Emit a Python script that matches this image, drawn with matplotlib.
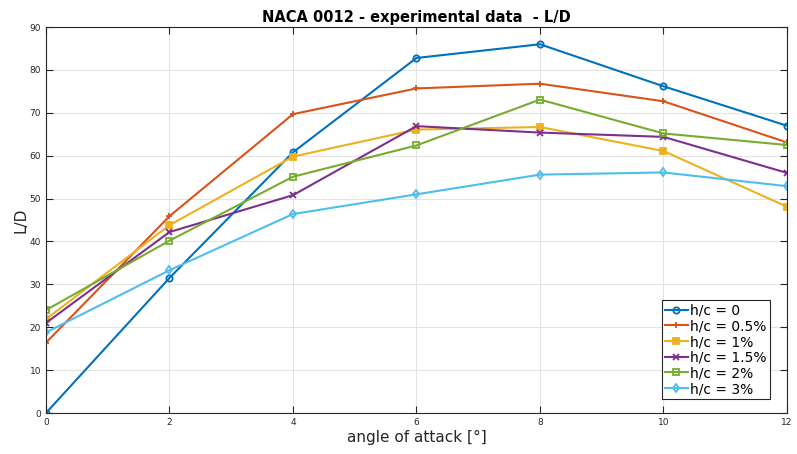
import matplotlib.pyplot as plt

# angle of attack [deg]
alpha = [0, 2, 4, 6, 8, 10, 12]

# L/D for each ground clearance h/c
ld_0 = [0.0, 31.5, 60.8, 82.8, 86.0, 76.2, 67.0]
ld_05 = [16.4, 45.9, 69.7, 75.7, 76.8, 72.7, 63.1]
ld_1 = [21.9, 43.8, 59.8, 66.1, 66.7, 61.1, 48.1]
ld_15 = [21.0, 42.2, 50.8, 66.9, 65.4, 64.4, 56.0]
ld_2 = [24.0, 40.2, 55.1, 62.4, 73.1, 65.2, 62.5]
ld_3 = [18.8, 33.3, 46.4, 51.0, 55.6, 56.1, 52.9]

labels = ['h/c = 0', 'h/c = 0.5%', 'h/c = 1%', 'h/c = 1.5%', 'h/c = 2%', 'h/c = 3%']

series = [ld_0, ld_05, ld_1, ld_15, ld_2, ld_3]
colors = ['#0072BD', '#D95319', '#EDB120', '#7E2F8E', '#77AC30', '#4DBEEE']
markers = ['o', '+', 's', 'x', 's', 'd']
filled = [False, False, True, False, False, False]

fig = plt.figure(figsize=(7.97, 4.54), dpi=100)
ax = fig.add_axes([0.0577, 0.0903, 0.9297, 0.850])

for y, lab, c, m, f in zip(series, labels, colors, markers, filled):
    ax.plot(alpha, y, color=c, marker=m, label=lab, linewidth=1.5,
            markersize=4.5, markeredgewidth=1.3,
            markerfacecolor=c if f else 'none')

ax.set_xlim(0, 12)
ax.set_ylim(0, 90)
ax.set_xticks(range(0, 13, 2))
ax.set_yticks(range(0, 91, 10))
ax.grid(True, color='#e3e3e3', linewidth=0.8)
ax.set_axisbelow(True)
ax.tick_params(direction='in', top=True, right=True, labelsize=6.5,
               colors='#262626', length=5, width=0.8)
for s in ax.spines.values():
    s.set_color('#262626')
    s.set_linewidth(0.8)

ax.set_title('NACA 0012 - experimental data  - L/D', fontsize=10.5,
             fontweight='bold', pad=4)
ax.set_xlabel('angle of attack [°]', fontsize=11, color='#262626', labelpad=2)
ax.set_ylabel('L/D', fontsize=11, color='#262626', labelpad=1)

leg = ax.legend(loc='lower right', bbox_to_anchor=(0.9775, 0.035), fontsize=10,
                fancybox=False, framealpha=1, edgecolor='#262626',
                handlelength=1.6, handletextpad=0.2, borderpad=0.25,
                labelspacing=0.12, borderaxespad=0)
leg.get_frame().set_linewidth(0.8)

fig.savefig('out.png', dpi=100)
